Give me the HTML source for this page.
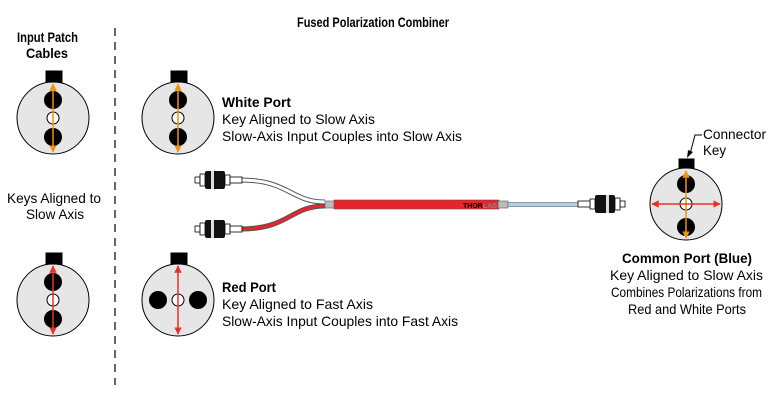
<!DOCTYPE html>
<html><head><meta charset="utf-8"><style>
html,body{margin:0;padding:0;background:#fff}
svg{display:block}
text{font-family:"Liberation Sans Narrow","Liberation Sans",sans-serif;font-size:14px;fill:#000}
.b{font-weight:bold}
</style></head><body>
<svg width="780" height="400" viewBox="0 0 780 400" xmlns="http://www.w3.org/2000/svg">
<defs>
<marker id="ao" viewBox="0 0 10 10" refX="9" refY="5" markerWidth="5" markerHeight="5" orient="auto-start-reverse"><path d="M0,0L10,5L0,10z" fill="#f0940a"/></marker>
<marker id="ar" viewBox="0 0 10 10" refX="9" refY="5" markerWidth="5" markerHeight="5" orient="auto-start-reverse"><path d="M0,0L10,5L0,10z" fill="#e8312a"/></marker>
<g id="conn">
<rect x="0" y="-3" width="5" height="6" fill="#fff" stroke="#000" stroke-width="0.8"/>
<rect x="5" y="-6" width="5" height="12" fill="#fff" stroke="#000" stroke-width="0.8"/>
<rect x="10" y="-9" width="20" height="18" rx="2" fill="#111"/>
<rect x="16" y="-9" width="3" height="18" fill="#ddd"/>
<rect x="30" y="-5" width="5" height="10" fill="#fff" stroke="#000" stroke-width="0.8"/>
<rect x="35" y="-3" width="12" height="6" fill="#fff" stroke="#000" stroke-width="0.8"/>
</g>
</defs>

<line x1="115" y1="28" x2="115" y2="385" stroke="#000" stroke-width="1.2" stroke-dasharray="8,6"/>

<text class="b" x="297" y="27" textLength="152" lengthAdjust="spacingAndGlyphs">Fused Polarization Combiner</text>
<text class="b" x="17" y="42" textLength="61" lengthAdjust="spacingAndGlyphs">Input Patch</text>
<text class="b" x="26" y="58" textLength="42" lengthAdjust="spacingAndGlyphs">Cables</text>
<text x="7" y="203" textLength="94" lengthAdjust="spacingAndGlyphs">Keys Aligned to</text>
<text x="26" y="219" textLength="58" lengthAdjust="spacingAndGlyphs">Slow Axis</text>

<!-- Top circles -->
<g stroke="#000" stroke-width="1">
<rect x="46" y="71" width="16" height="12" fill="#000"/>
<circle cx="53" cy="118" r="36" fill="#e6e6e6"/>
<circle cx="53" cy="100" r="8.5" fill="#000"/>
<circle cx="53" cy="137" r="8.5" fill="#000"/>
<circle cx="53" cy="118" r="6" fill="#fff"/>
<rect x="171" y="71" width="16" height="12" fill="#000"/>
<circle cx="178" cy="118" r="36" fill="#e6e6e6"/>
<circle cx="178" cy="100" r="8.5" fill="#000"/>
<circle cx="178" cy="137" r="8.5" fill="#000"/>
<circle cx="178" cy="118" r="6" fill="#fff"/>
</g>
<line x1="53" y1="84" x2="53" y2="152" stroke="#f0940a" stroke-width="1.5" marker-start="url(#ao)" marker-end="url(#ao)"/>
<line x1="178" y1="84" x2="178" y2="152" stroke="#f0940a" stroke-width="1.5" marker-start="url(#ao)" marker-end="url(#ao)"/>

<!-- Bottom circles -->
<g stroke="#000" stroke-width="1">
<rect x="46" y="253" width="16" height="12" fill="#000"/>
<circle cx="53" cy="300" r="36" fill="#e6e6e6"/>
<circle cx="53" cy="282" r="8.5" fill="#000"/>
<circle cx="53" cy="319" r="8.5" fill="#000"/>
<circle cx="53" cy="300" r="6" fill="#fff"/>
<rect x="171" y="253" width="16" height="12" fill="#000"/>
<circle cx="178" cy="300" r="36" fill="#e6e6e6"/>
<circle cx="158" cy="300" r="8.5" fill="#000"/>
<circle cx="198" cy="300" r="8.5" fill="#000"/>
<circle cx="178" cy="300" r="6" fill="#fff"/>
</g>
<line x1="53" y1="266" x2="53" y2="334" stroke="#e8312a" stroke-width="1.5" marker-start="url(#ar)" marker-end="url(#ar)"/>
<line x1="178" y1="266" x2="178" y2="334" stroke="#e8312a" stroke-width="1.5" marker-start="url(#ar)" marker-end="url(#ar)"/>

<!-- Common port -->
<g stroke="#000" stroke-width="1">
<rect x="679" y="159" width="15" height="11" fill="#000"/>
<circle cx="686" cy="204" r="36" fill="#e6e6e6"/>
<circle cx="686" cy="184" r="8.5" fill="#000"/>
<circle cx="686" cy="227" r="8.5" fill="#000"/>
<circle cx="686" cy="204" r="6" fill="#fff"/>
</g>
<line x1="686" y1="171" x2="686" y2="238" stroke="#f0940a" stroke-width="1.5" marker-start="url(#ao)" marker-end="url(#ao)"/>
<line x1="652" y1="204" x2="720" y2="204" stroke="#e8312a" stroke-width="1.5" marker-start="url(#ar)" marker-end="url(#ar)"/>
<path d="M702,135 L695,135 L690,154" fill="none" stroke="#000" stroke-width="1"/>
<path d="M687,158 L688,150 L693,152z" fill="#000"/>
<text x="703" y="139" textLength="63" lengthAdjust="spacingAndGlyphs">Connector</text>
<text x="703" y="155" textLength="23" lengthAdjust="spacingAndGlyphs">Key</text>

<!-- Cable -->
<path d="M240,180 C290,180 290,202 325,202" fill="none" stroke="#555" stroke-width="5"/>
<path d="M240,180 C290,180 290,202 325,202" fill="none" stroke="#fff" stroke-width="3"/>
<path d="M240,229 C290,229 290,206 325,206" fill="none" stroke="#555" stroke-width="5"/>
<path d="M240,229 C290,229 290,206 325,206" fill="none" stroke="#e8232a" stroke-width="3"/>
<rect x="325" y="201" width="10" height="7" fill="#bbb" stroke="#555" stroke-width="0.6"/>
<rect x="334" y="200" width="165" height="9" fill="#e8232a" stroke="#555" stroke-width="0.6"/>
<text x="463" y="208" style="font-size:7px;font-weight:bold">THOR<tspan fill="#888">LABS</tspan></text>
<rect x="498" y="201" width="10" height="7" fill="#bbb" stroke="#555" stroke-width="0.6"/>
<rect x="508" y="202.5" width="72" height="4" fill="#a8d3e6" stroke="#666" stroke-width="0.6"/>
<use href="#conn" transform="translate(195,180)"/>
<use href="#conn" transform="translate(195,229)"/>
<use href="#conn" transform="translate(625,204) scale(-1,1)"/>

<!-- Labels -->
<text class="b" x="222" y="107" textLength="69" lengthAdjust="spacingAndGlyphs">White Port</text>
<text x="222" y="124" textLength="153" lengthAdjust="spacingAndGlyphs">Key Aligned to Slow Axis</text>
<text x="222" y="141" textLength="240" lengthAdjust="spacingAndGlyphs">Slow-Axis Input Couples into Slow Axis</text>
<text class="b" x="222" y="292" textLength="54" lengthAdjust="spacingAndGlyphs">Red Port</text>
<text x="222" y="309" textLength="151" lengthAdjust="spacingAndGlyphs">Key Aligned to Fast Axis</text>
<text x="222" y="326" textLength="236" lengthAdjust="spacingAndGlyphs">Slow-Axis Input Couples into Fast Axis</text>
<text class="b" x="622" y="263" textLength="130" lengthAdjust="spacingAndGlyphs">Common Port (Blue)</text>
<text x="610" y="280" textLength="153" lengthAdjust="spacingAndGlyphs">Key Aligned to Slow Axis</text>
<text x="611" y="297" textLength="151" lengthAdjust="spacingAndGlyphs">Combines Polarizations from</text>
<text x="628" y="314" textLength="118" lengthAdjust="spacingAndGlyphs">Red and White Ports</text>
</svg>
</body></html>
